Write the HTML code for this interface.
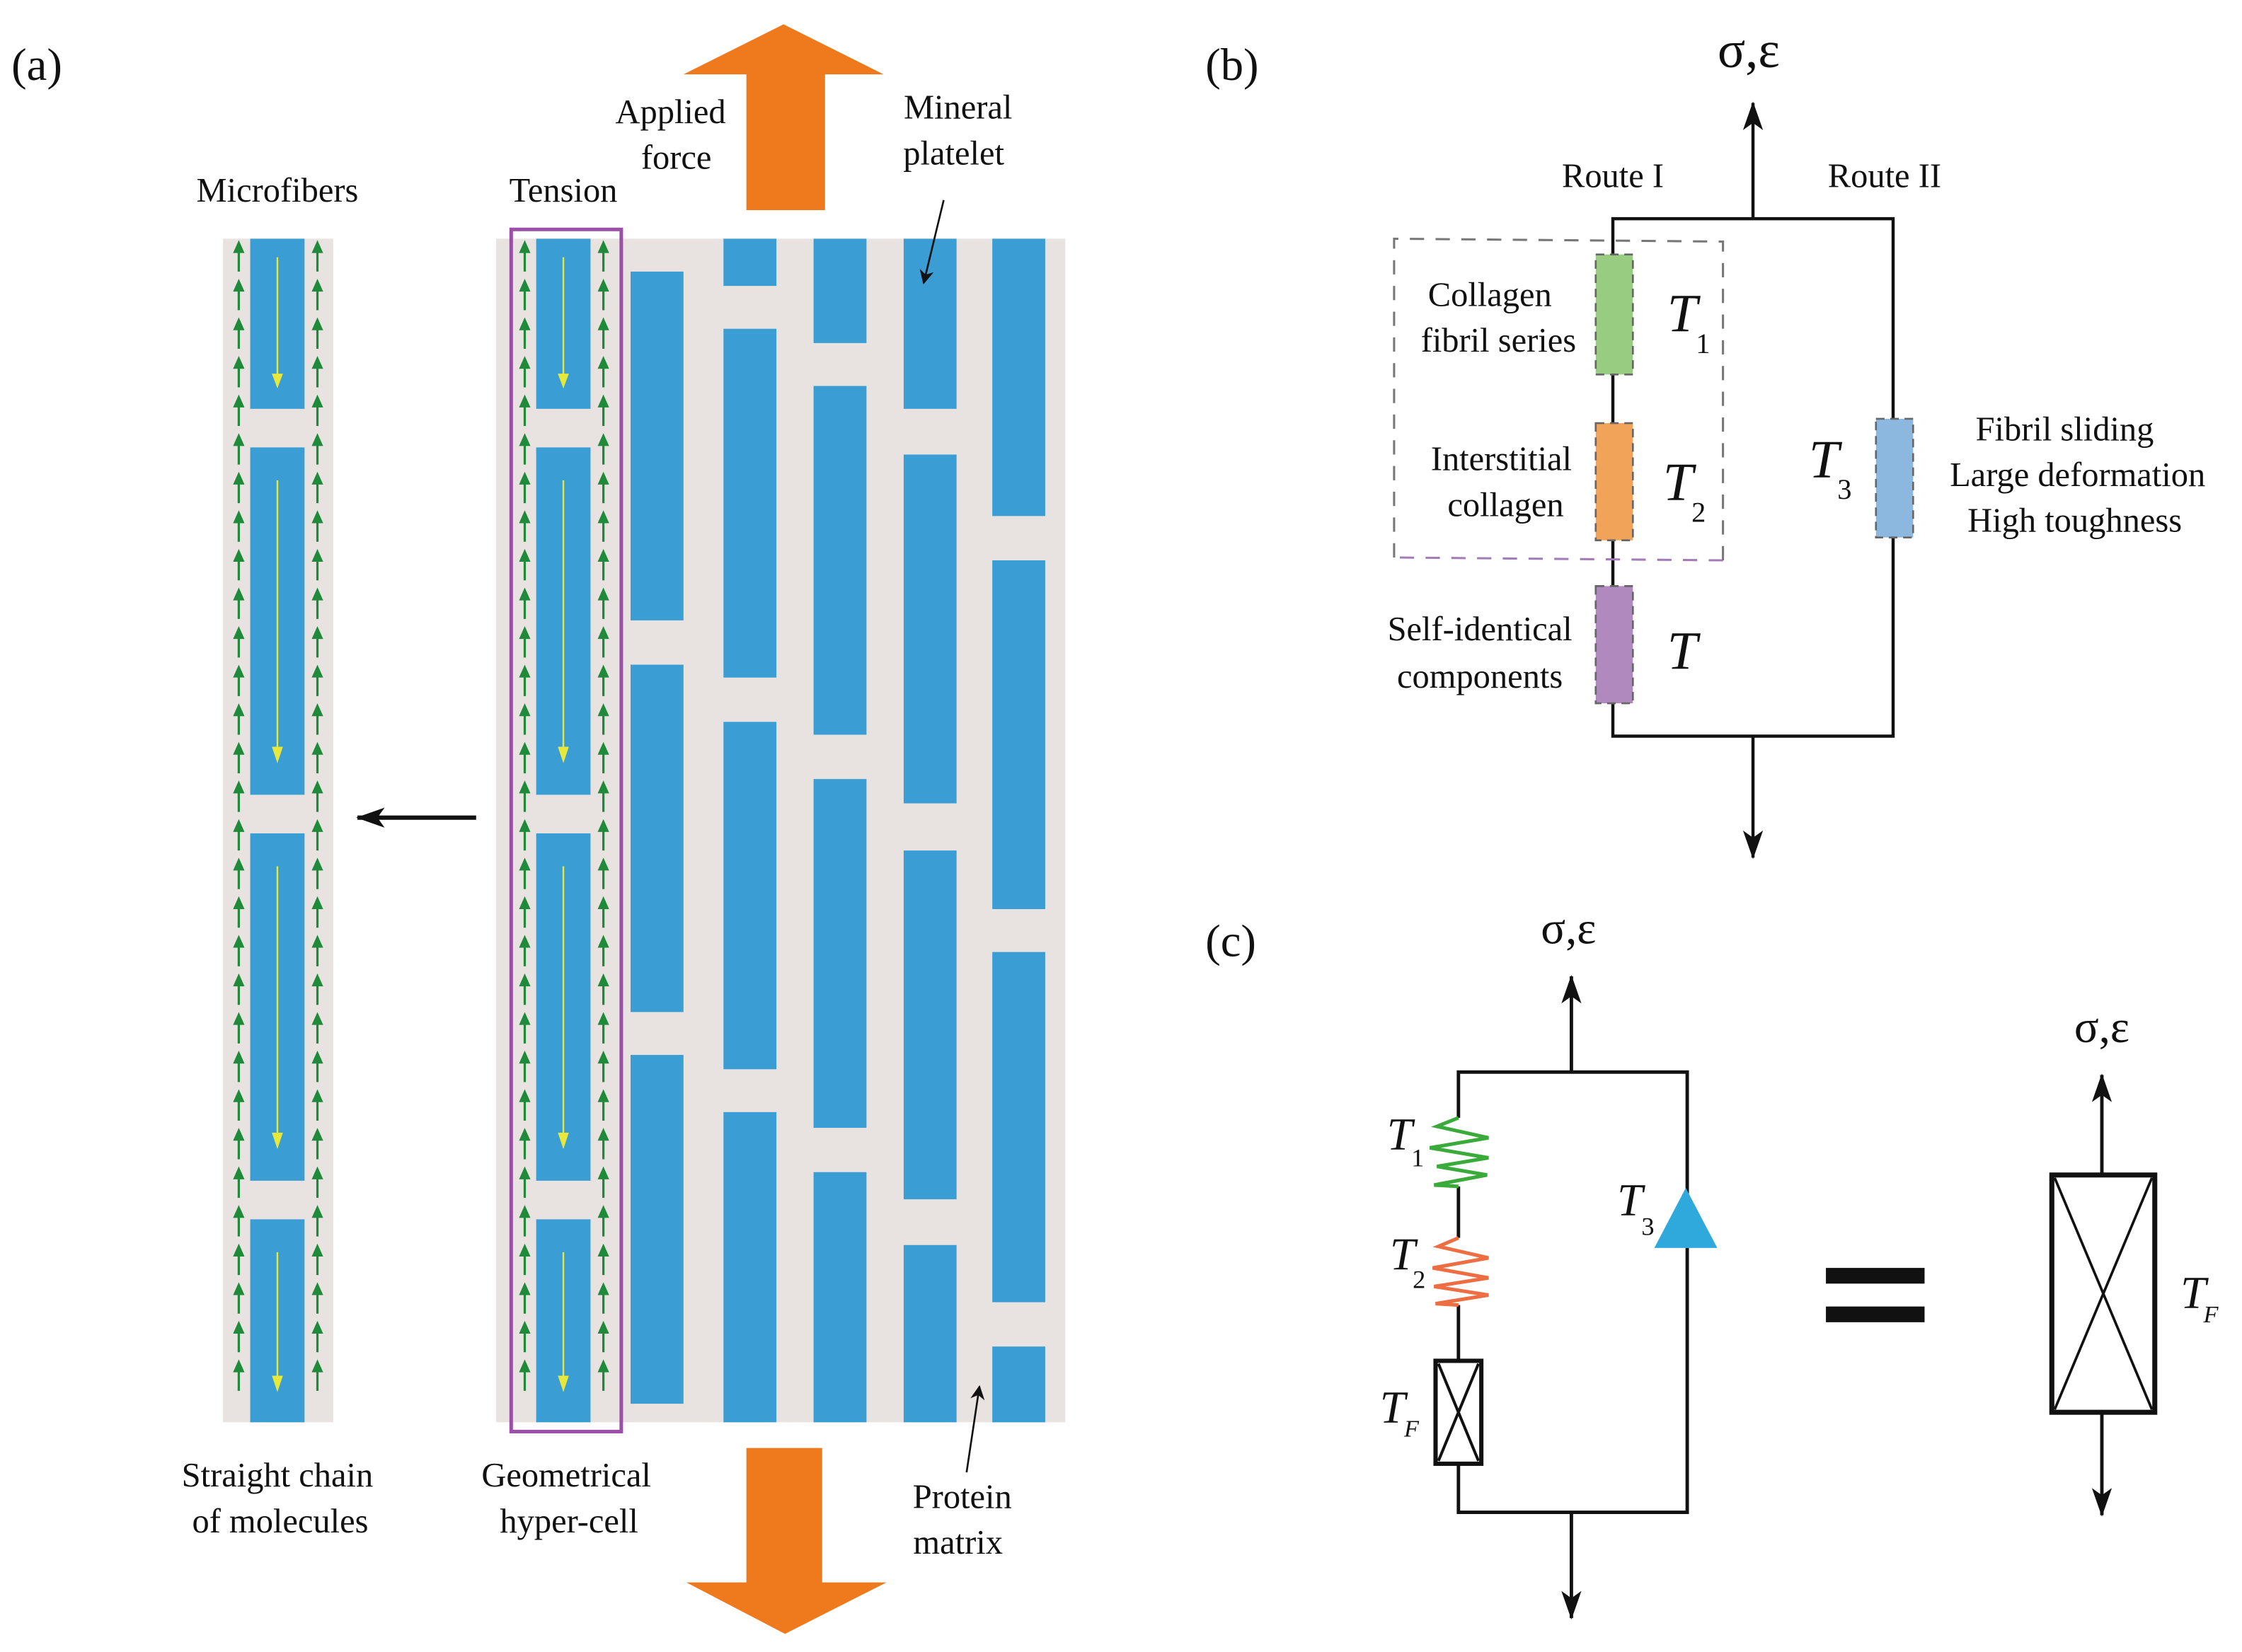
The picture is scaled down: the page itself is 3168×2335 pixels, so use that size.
<!DOCTYPE html>
<html><head><meta charset="utf-8"><style>
html,body{margin:0;padding:0;background:#fff;}
svg{display:block;font-family:"Liberation Serif","Times New Roman","DejaVu Serif",serif;}
svg text{font-family:"Liberation Serif","Times New Roman","DejaVu Serif",serif;fill:#111;}
</style></head><body>
<svg width="3168" height="2335" viewBox="0 0 1568 1155.7" xmlns="http://www.w3.org/2000/svg" font-family="Liberation Serif, serif">
<defs>
<g id="garrow"><line x1="0" y1="23" x2="0" y2="6" stroke="#1f8a3a" stroke-width="1.6"/><path d="M-4,10 L0,1 L4,10 Z" fill="#1f8a3a"/></g>
<g id="gcol">
 <use href="#garrow" y="167"/><use href="#garrow" y="194"/><use href="#garrow" y="221"/><use href="#garrow" y="248"/><use href="#garrow" y="275"/><use href="#garrow" y="302"/><use href="#garrow" y="329"/><use href="#garrow" y="356"/><use href="#garrow" y="383"/><use href="#garrow" y="410"/><use href="#garrow" y="437"/><use href="#garrow" y="464"/><use href="#garrow" y="491"/><use href="#garrow" y="518"/><use href="#garrow" y="545"/><use href="#garrow" y="572"/><use href="#garrow" y="599"/><use href="#garrow" y="626"/><use href="#garrow" y="653"/><use href="#garrow" y="680"/><use href="#garrow" y="707"/><use href="#garrow" y="734"/><use href="#garrow" y="761"/><use href="#garrow" y="788"/><use href="#garrow" y="815"/><use href="#garrow" y="842"/><use href="#garrow" y="869"/><use href="#garrow" y="896"/><use href="#garrow" y="923"/><use href="#garrow" y="950"/>
</g>
<g id="fiber">
 <rect x="-19" y="167" width="38" height="119" fill="#3a9dd4"/>
 <rect x="-19" y="313" width="38" height="243" fill="#3a9dd4"/>
 <rect x="-19" y="583" width="38" height="243" fill="#3a9dd4"/>
 <rect x="-19" y="853" width="38" height="142" fill="#3a9dd4"/>
 <g stroke="#e8e83a" stroke-width="1.2" fill="#e8e83a">
  <line x1="0" y1="180" x2="0" y2="266"/><path d="M-3,262 L0,270 L3,262Z"/>
  <line x1="0" y1="336" x2="0" y2="528"/><path d="M-3,523 L0,532 L3,523Z"/>
  <line x1="0" y1="606" x2="0" y2="798"/><path d="M-3,793 L0,802 L3,793Z"/>
  <line x1="0" y1="876" x2="0" y2="968"/><path d="M-3,963 L0,972 L3,963Z"/>
 </g>
 <use href="#gcol" x="-27"/><use href="#gcol" x="28"/>
</g>
<marker id="ah" markerWidth="10" markerHeight="10" refX="9" refY="5" orient="auto" markerUnits="userSpaceOnUse"><path d="M0,0 L10,5 L0,10 L3,5Z" fill="#111"/></marker>
<marker id="ab" viewBox="0 0 20 14" markerWidth="20" markerHeight="14" refX="19" refY="7" orient="auto" markerUnits="userSpaceOnUse"><path d="M0,0 L20,7 L0,14 L5,7Z" fill="#111"/></marker>
</defs>

<!-- Panel (a) -->
<text x="8" y="56" font-size="32">(a)</text>
<rect x="156" y="167" width="77" height="828" fill="#e8e3e1"/>
<use href="#fiber" x="194"/>
<rect x="347" y="167" width="398" height="828" fill="#e8e3e1"/>
<use href="#fiber" x="394"/>
<rect x="357.5" y="160.5" width="77" height="841" fill="none" stroke="#9b4fa8" stroke-width="2.5"/>
<g fill="#3a9dd4">
 <rect x="441" y="190" width="37" height="244"/><rect x="441" y="465" width="37" height="243"/><rect x="441" y="738" width="37" height="244"/>
 <rect x="506" y="167" width="37" height="33"/><rect x="506" y="230" width="37" height="244"/><rect x="506" y="505" width="37" height="243"/><rect x="506" y="778" width="37" height="217"/>
 <rect x="569" y="167" width="37" height="73"/><rect x="569" y="270" width="37" height="244"/><rect x="569" y="545" width="37" height="244"/><rect x="569" y="820" width="37" height="175"/>
 <rect x="632" y="167" width="37" height="119"/><rect x="632" y="318" width="37" height="244"/><rect x="632" y="595" width="37" height="244"/><rect x="632" y="871" width="37" height="124"/>
 <rect x="694" y="167" width="37" height="194"/><rect x="694" y="392" width="37" height="244"/><rect x="694" y="666" width="37" height="245"/><rect x="694" y="942" width="37" height="53"/>
</g>
<path d="M522,147 L522,52 L478,52 L548,17 L618,52 L577,52 L577,147Z" fill="#ef7a1e"/>
<path d="M522,1013 L575,1013 L575,1107 L620,1107 L549,1143 L480,1107 L522,1107Z" fill="#ef7a1e"/>
<line x1="333" y1="572" x2="250" y2="572" stroke="#111" stroke-width="3" marker-end="url(#ab)"/>
<line x1="660" y1="140" x2="646" y2="198" stroke="#111" stroke-width="1.3" marker-end="url(#ah)"/>
<line x1="676" y1="1030" x2="685" y2="970" stroke="#111" stroke-width="1.3" marker-end="url(#ah)"/>
<g font-size="24" text-anchor="middle">
 <text x="194" y="141">Microfibers</text>
 <text x="394" y="141">Tension</text>
 <text x="469" y="86">Applied</text><text x="473" y="118">force</text>
 <text x="670" y="83">Mineral</text><text x="667" y="115">platelet</text>
 <text x="194" y="1040">Straight chain</text><text x="196" y="1072">of molecules</text>
 <text x="396" y="1040">Geometrical</text><text x="398" y="1072">hyper-cell</text>
 <text x="673" y="1055">Protein</text><text x="670" y="1087">matrix</text>
</g>

<!-- Panel (b) -->
<text x="843" y="56" font-size="32">(b)</text>
<text x="1223" y="47" font-size="36" text-anchor="middle">σ,ε</text>
<g stroke="#111" stroke-width="2.2" fill="none">
 <line x1="1226" y1="153" x2="1226" y2="72" marker-end="url(#ab)"/>
 <path d="M1128,178 L1128,153 L1324,153 L1324,293 M1324,376 L1324,515 L1128,515 L1128,492 M1128,262 L1128,296 M1128,378 L1128,410"/>
 <line x1="1226" y1="515" x2="1226" y2="600" marker-end="url(#ab)"/>
</g>
<path d="M1205,392 L975,390" stroke="#a27bb8" stroke-width="1.5" stroke-dasharray="10,8" fill="none"/>
<path d="M975,390 L975,167 L1205,169 L1205,392" stroke="#777" stroke-width="1.5" stroke-dasharray="10,8" fill="none"/>
<g stroke="#666" stroke-width="1.3" stroke-dasharray="6,4">
 <rect x="1116" y="178" width="26" height="84" fill="#98cc80"/>
 <rect x="1116" y="296" width="26" height="82" fill="#f2a35a"/>
 <rect x="1116" y="410" width="26" height="82" fill="#b089bf"/>
 <rect x="1312" y="293" width="26" height="83" fill="#8cb8e0"/>
</g>
<g font-size="24" text-anchor="middle">
 <text x="1042" y="214">Collagen</text><text x="1048" y="246">fibril series</text>
 <text x="1050" y="329">Interstitial</text><text x="1053" y="361">collagen</text>
 <text x="1035" y="448">Self-identical</text><text x="1035" y="481">components</text>
 <text x="1444" y="308">Fibril sliding</text><text x="1453" y="340">Large deformation</text><text x="1451" y="372">High toughness</text>
 <text x="1128" y="131">Route I</text><text x="1318" y="131">Route II</text>
</g>
<g font-style="italic" font-size="38">
 <text x="1166" y="232">T</text><text x="1163" y="350">T</text><text x="1166" y="468">T</text><text x="1265" y="334">T</text>
</g>
<g font-size="20">
 <text x="1186" y="247">1</text><text x="1183" y="365">2</text><text x="1285" y="349">3</text>
</g>

<!-- Panel (c) -->
<text x="843" y="669" font-size="32">(c)</text>
<text x="1097" y="660" font-size="32" text-anchor="middle">σ,ε</text>
<g stroke="#111" stroke-width="2.4" fill="none">
 <line x1="1099" y1="750" x2="1099" y2="683" marker-end="url(#ab)"/>
 <path d="M1020,782 L1020,750 L1180,750 L1180,837 M1180,873 L1180,1058 L1020,1058 L1020,1024 M1020,830 L1020,866 M1020,913 L1020,952"/>
 <line x1="1099" y1="1058" x2="1099" y2="1132" marker-end="url(#ab)"/>
</g>
<path d="M1020,782 L1005,788 L1041,796 L1000,803 L1041,810 L1005,816 L1040,822 L1003,829 L1020,830" fill="none" stroke="#3aaa3a" stroke-width="2.5"/>
<path d="M1020,866 L1006,872 L1041,880 L1002,887 L1041,894 L1003,900 L1041,906 L1004,912 L1020,913" fill="none" stroke="#ee6e44" stroke-width="2.5"/>
<g stroke="#111" stroke-width="3" fill="#fff">
 <rect x="1004" y="952" width="32" height="72"/>
 <path d="M1006,954 L1034,1022 M1034,954 L1006,1022" fill="none" stroke-width="2"/>
</g>
<path d="M1157,873 L1201,873 L1179,831Z" fill="#2fa9dc"/>
<g font-style="italic" font-size="32">
 <text x="970" y="804">T</text><text x="972" y="888">T</text><text x="965" y="995">T</text><text x="1131" y="850">T</text><text x="1525" y="915">T</text>
</g>
<g font-size="18">
 <text x="987" y="816">1</text><text x="988" y="901">2</text><text x="1148" y="864">3</text>
</g>
<g font-size="17" font-style="italic"><text x="982" y="1005">F</text><text x="1541" y="925">F</text></g>
<rect x="1277" y="887" width="69" height="11" fill="#111"/>
<rect x="1277" y="914" width="69" height="11" fill="#111"/>
<text x="1470" y="729" font-size="32" text-anchor="middle">σ,ε</text>
<g stroke="#111" stroke-width="2.4" fill="none">
 <line x1="1470" y1="822" x2="1470" y2="752" marker-end="url(#ab)"/>
 <line x1="1470" y1="988" x2="1470" y2="1060" marker-end="url(#ab)"/>
 <rect x="1435" y="822" width="72" height="166" stroke-width="3.5"/>
 <path d="M1437,824 L1505,986 M1505,824 L1437,986" stroke-width="1.8"/>
</g>
</svg>
</body></html>
